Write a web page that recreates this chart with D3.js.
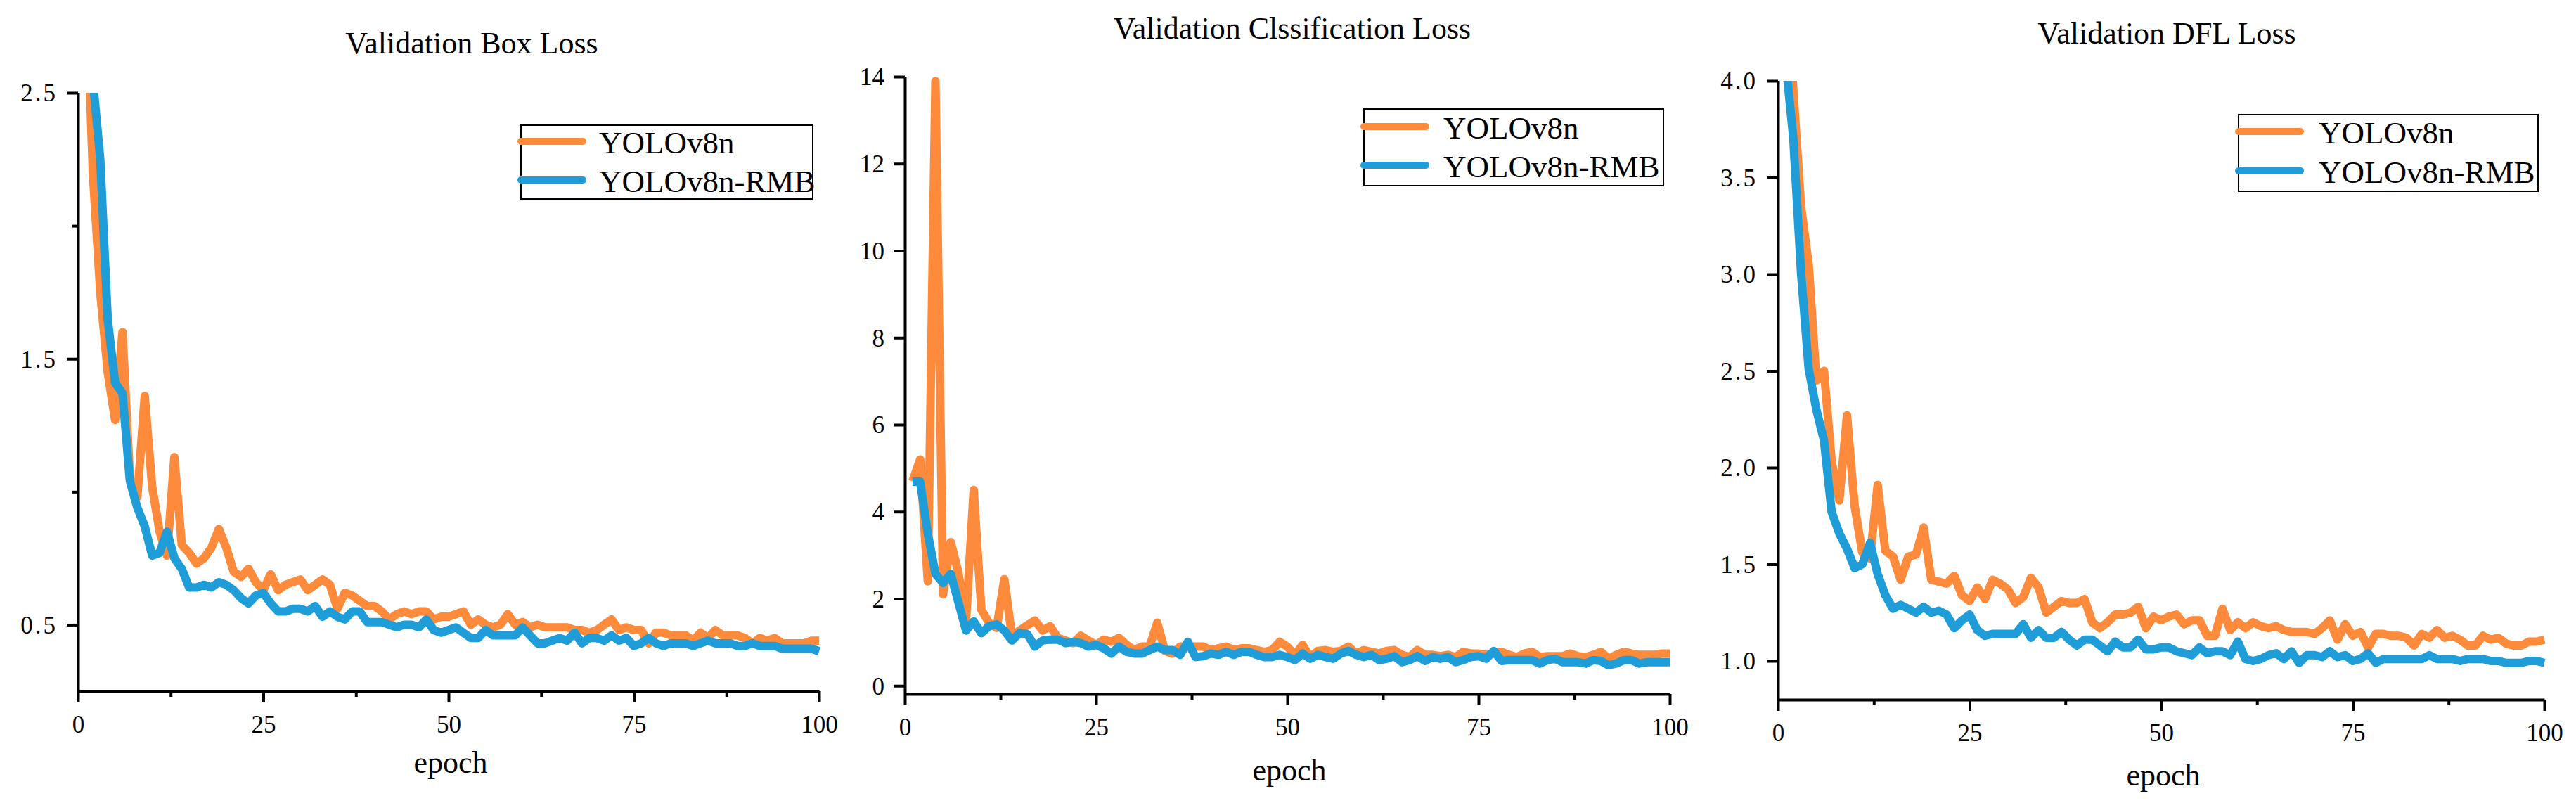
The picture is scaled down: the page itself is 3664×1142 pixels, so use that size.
<!DOCTYPE html>
<html>
<head>
<meta charset="utf-8">
<script src="https://cdn.jsdelivr.net/npm/d3@7/dist/d3.min.js"></script>
<style>
  html, body { margin: 0; padding: 0; background: #fff; }
  svg { display: block; }
  text { font-family: "Liberation Serif", "Times New Roman", serif; fill: #000; }
</style>
</head>
<body>
<svg id="chart" width="3664" height="1142"></svg>
<script>
// ---------------- DATA ----------------
const epochs = d3.range(1, 101);
const seriesNames = ["YOLOv8n", "YOLOv8n-RMB"];
const panelTitles = ["Validation Box Loss", "Validation Clssification Loss", "Validation DFL Loss"];
const xLabel = "epoch";
const xTicks = [0, 25, 50, 75, 100];
const xMinorTicks = [12.5, 37.5, 62.5, 87.5];
const boxTicks = [0.5, 1.5, 2.5];
const boxMinorTicks = [1.0, 2.0];
const clsTicks = [0, 2, 4, 6, 8, 10, 12, 14];
const dflTicks = [1.0, 1.5, 2.0, 2.5, 3.0, 3.5, 4.0];

const boxV8n = [3.0,2.2,1.75,1.45,1.27,1.6,1.05,0.98,1.36,1.02,
  0.85,0.76,1.13,0.80,0.77,0.73,0.75,0.79,0.86,0.79,
  0.70,0.68,0.71,0.66,0.63,0.69,0.63,0.65,0.66,0.67,
  0.63,0.65,0.67,0.65,0.56,0.62,0.61,0.59,0.57,0.57,
  0.55,0.52,0.54,0.55,0.54,0.55,0.55,0.52,0.53,0.53,
  0.54,0.55,0.50,0.52,0.50,0.49,0.50,0.54,0.50,0.51,
  0.49,0.50,0.49,0.49,0.49,0.49,0.48,0.48,0.47,0.48,
  0.50,0.52,0.48,0.49,0.48,0.48,0.43,0.47,0.47,0.46,
  0.46,0.46,0.44,0.47,0.45,0.48,0.46,0.46,0.46,0.45,
  0.43,0.45,0.44,0.45,0.43,0.43,0.43,0.43,0.44,0.44];
const boxRMB = [2.9,2.55,2.25,1.65,1.41,1.37,1.04,0.94,0.87,0.76,
  0.77,0.85,0.75,0.71,0.64,0.64,0.65,0.64,0.66,0.65,
  0.63,0.60,0.58,0.61,0.62,0.58,0.55,0.55,0.56,0.56,
  0.55,0.57,0.53,0.55,0.53,0.52,0.55,0.55,0.51,0.51,
  0.51,0.50,0.49,0.50,0.50,0.49,0.52,0.48,0.47,0.48,
  0.49,0.47,0.45,0.45,0.48,0.46,0.46,0.46,0.46,0.49,
  0.46,0.43,0.43,0.44,0.45,0.44,0.47,0.43,0.45,0.45,
  0.44,0.46,0.44,0.45,0.42,0.43,0.45,0.43,0.42,0.43,
  0.43,0.43,0.42,0.43,0.44,0.43,0.43,0.43,0.42,0.42,
  0.43,0.42,0.42,0.42,0.41,0.41,0.41,0.41,0.41,0.40];
const clsV8n = [4.7,5.2,2.4,13.9,2.1,3.3,2.6,1.5,4.5,1.75,
  1.45,1.33,2.45,1.15,1.27,1.39,1.5,1.27,1.37,1.1,
  1.04,0.98,1.15,1.04,0.94,1.06,1.01,1.1,0.94,0.82,
  0.9,0.9,1.45,0.8,0.74,0.9,0.9,0.9,0.9,0.82,
  0.86,0.9,0.82,0.86,0.86,0.82,0.78,0.82,1.01,0.9,
  0.71,0.94,0.66,0.8,0.82,0.78,0.8,0.9,0.74,0.82,
  0.78,0.74,0.8,0.82,0.71,0.66,0.82,0.71,0.71,0.68,
  0.71,0.66,0.78,0.74,0.74,0.71,0.74,0.78,0.71,0.66,
  0.74,0.78,0.66,0.68,0.68,0.68,0.74,0.68,0.66,0.71,
  0.78,0.62,0.71,0.78,0.74,0.71,0.71,0.71,0.74,0.74];
const clsRMB = [4.69,4.69,3.5,2.57,2.36,2.57,1.92,1.27,1.48,1.21,
  1.37,1.41,1.27,1.04,1.21,1.19,0.9,1.04,1.06,1.06,
  0.98,1.01,0.98,0.9,0.94,0.86,0.74,0.9,0.78,0.74,
  0.74,0.82,0.9,0.82,0.82,0.71,1.01,0.66,0.68,0.74,
  0.71,0.78,0.71,0.78,0.78,0.71,0.66,0.66,0.71,0.66,
  0.59,0.74,0.62,0.71,0.66,0.62,0.74,0.8,0.71,0.66,
  0.71,0.59,0.62,0.68,0.54,0.59,0.68,0.57,0.66,0.62,
  0.66,0.54,0.59,0.66,0.68,0.62,0.8,0.57,0.59,0.59,
  0.59,0.59,0.51,0.59,0.62,0.54,0.54,0.54,0.51,0.59,
  0.57,0.47,0.51,0.59,0.59,0.51,0.54,0.54,0.54,0.54];
const dflV8n = [4.6,3.95,3.35,3.05,2.45,2.5,2.03,1.83,2.27,1.8,
  1.56,1.53,1.91,1.57,1.54,1.42,1.54,1.55,1.69,1.42,
  1.41,1.40,1.44,1.34,1.31,1.38,1.32,1.42,1.40,1.37,
  1.30,1.33,1.43,1.38,1.25,1.28,1.31,1.30,1.30,1.32,
  1.20,1.17,1.20,1.24,1.24,1.25,1.28,1.17,1.23,1.21,
  1.23,1.24,1.19,1.21,1.21,1.13,1.13,1.27,1.16,1.20,
  1.17,1.20,1.18,1.17,1.18,1.16,1.15,1.15,1.15,1.14,
  1.17,1.21,1.11,1.19,1.13,1.15,1.07,1.14,1.14,1.13,
  1.13,1.12,1.08,1.14,1.12,1.16,1.12,1.13,1.11,1.08,
  1.08,1.13,1.11,1.12,1.09,1.08,1.08,1.10,1.10,1.11];
const dflRMB = [4.1,3.70,3.01,2.51,2.30,2.14,1.77,1.66,1.58,1.48,
  1.50,1.61,1.45,1.34,1.27,1.29,1.27,1.25,1.28,1.25,
  1.26,1.24,1.17,1.21,1.24,1.16,1.13,1.14,1.14,1.14,
  1.14,1.19,1.12,1.16,1.12,1.12,1.15,1.11,1.08,1.11,
  1.11,1.08,1.05,1.10,1.07,1.07,1.11,1.06,1.06,1.07,
  1.07,1.05,1.04,1.03,1.07,1.04,1.05,1.05,1.03,1.10,
  1.01,1.00,1.01,1.03,1.04,1.01,1.05,0.99,1.03,1.03,
  1.02,1.05,1.02,1.03,1.00,1.01,1.04,0.99,1.01,1.01,
  1.01,1.01,1.01,1.01,1.03,1.01,1.01,1.01,1.00,1.01,
  1.01,1.01,1.00,1.00,0.99,0.99,0.99,1.00,1.00,0.99];

// ---------------- LAYOUT / STYLE ----------------
const colors = ["#FE8A3B", "#1E9DD8"];
const FONT = "Liberation Serif, Times New Roman, serif";
const svg = d3.select("#chart");

const panels = [
  { title: panelTitles[0], series: [boxV8n, boxRMB], yDomain: [0.25, 2.5], yTicks: boxTicks, yMinor: boxMinorTicks,
    fmt: d3.format(".1f"), left: 111, right: 1165, top: 132, bottom: 983,
    titleX: 671, titleY: 76, labelX: 641, labelY: 1099,
    legend: { x: 741, y: 178, w: 415, h: 105, l1: 201, l2: 256, lx0: 741, lx1: 829, tx: 852 } },
  { title: panelTitles[1], series: [clsV8n, clsRMB], yDomain: [-0.19, 14], yTicks: clsTicks, yMinor: [],
    fmt: d3.format("d"), left: 1287, right: 2375, top: 109, bottom: 987,
    titleX: 1838, titleY: 55, labelX: 1834, labelY: 1110,
    legend: { x: 1940, y: 155, w: 426, h: 109, l1: 180, l2: 235, lx0: 1940, lx1: 2028, tx: 2053 } },
  { title: panelTitles[2], series: [dflV8n, dflRMB], yDomain: [0.8, 4.0], yTicks: dflTicks, yMinor: [],
    fmt: d3.format(".1f"), left: 2529, right: 3619, top: 115, bottom: 995,
    titleX: 3082, titleY: 62, labelX: 3077, labelY: 1117,
    legend: { x: 3184, y: 163, w: 426, h: 109, l1: 187, l2: 243, lx0: 3184, lx1: 3272, tx: 3298 } }
];

panels.forEach((p, i) => {
  const x = d3.scaleLinear().domain([0, 100]).range([p.left, p.right]);
  const y = d3.scaleLinear().domain(p.yDomain).range([p.bottom, p.top]);
  const g = svg.append("g");

  // clip
  const clipId = "clip" + i;
  svg.append("defs").append("clipPath").attr("id", clipId)
    .append("rect").attr("x", p.left).attr("y", p.top)
    .attr("width", p.right - p.left + 20).attr("height", p.bottom - p.top);

  // lines
  const line = d3.line().x((d, j) => x(epochs[j])).y(d => y(d));
  p.series.forEach((s, k) => {
    g.append("path").datum(s)
      .attr("clip-path", `url(#${clipId})`)
      .attr("d", line)
      .attr("fill", "none")
      .attr("stroke", colors[k])
      .attr("stroke-width", 12)
      .attr("stroke-linejoin", "round")
      .attr("stroke-linecap", "butt");
  });

  // x axis
  const xAxis = g.append("g").attr("transform", `translate(0,${p.bottom})`)
    .call(d3.axisBottom(x).tickValues(xTicks).tickSize(16).tickSizeOuter(0).tickFormat(d3.format("d")))
    .attr("font-family", FONT).attr("font-size", 35);
  xAxis.select(".domain").attr("stroke-width", 4);
  xAxis.selectAll(".tick line").attr("stroke-width", 4);
  xAxis.selectAll(".tick text").attr("y", 59).attr("dy", 0)
    .style("font-family", FONT).style("font-size", "35px");
  g.append("g").attr("transform", `translate(0,${p.bottom})`)
    .call(d3.axisBottom(x).tickValues(xMinorTicks).tickSize(8).tickSizeOuter(0).tickFormat(""))
    .call(a => a.select(".domain").remove())
    .selectAll(".tick line").attr("stroke-width", 4);

  // y axis
  const yAxis = g.append("g").attr("transform", `translate(${p.left},0)`)
    .call(d3.axisLeft(y).tickValues(p.yTicks).tickSize(16).tickSizeOuter(0).tickFormat(p.fmt))
    .attr("font-family", FONT).attr("font-size", 35);
  yAxis.select(".domain").attr("stroke-width", 4)
    .attr("d", `M0.5,${y(p.yTicks[p.yTicks.length - 1])}V${p.bottom}`);
  yAxis.selectAll(".tick line").attr("stroke-width", 4);
  yAxis.selectAll(".tick text").attr("x", -29).attr("dy", "0.34em")
    .style("font-family", FONT).style("font-size", "35px")
    .style("letter-spacing", i === 1 ? "0px" : "3px");
  if (p.yMinor.length) {
    g.append("g").attr("transform", `translate(${p.left},0)`)
      .call(d3.axisLeft(y).tickValues(p.yMinor).tickSize(8).tickSizeOuter(0).tickFormat(""))
      .call(a => a.select(".domain").remove())
      .selectAll(".tick line").attr("stroke-width", 4);
  }

  // title
  svg.append("text").attr("x", p.titleX).attr("y", p.titleY)
    .attr("text-anchor", "middle").style("font-family", FONT).style("font-size", "44px").text(p.title);
  // x label
  svg.append("text").attr("x", p.labelX).attr("y", p.labelY)
    .attr("text-anchor", "middle").style("font-family", FONT).style("font-size", "44px").text(xLabel);

  // legend
  const L = p.legend;
  const lg = svg.append("g");
  lg.append("rect").attr("x", L.x).attr("y", L.y).attr("width", L.w).attr("height", L.h)
    .attr("fill", "#fff").attr("stroke", "#000").attr("stroke-width", 2);
  [L.l1, L.l2].forEach((ly, k) => {
    lg.append("line").attr("x1", L.lx0).attr("x2", L.lx1).attr("y1", ly).attr("y2", ly)
      .attr("stroke", colors[k]).attr("stroke-width", 10).attr("stroke-linecap", "round");
    lg.append("text").attr("x", L.tx).attr("y", ly + 17)
      .style("font-family", FONT).style("font-size", "45px").text(seriesNames[k]);
  });
});
</script>
</body>
</html>
